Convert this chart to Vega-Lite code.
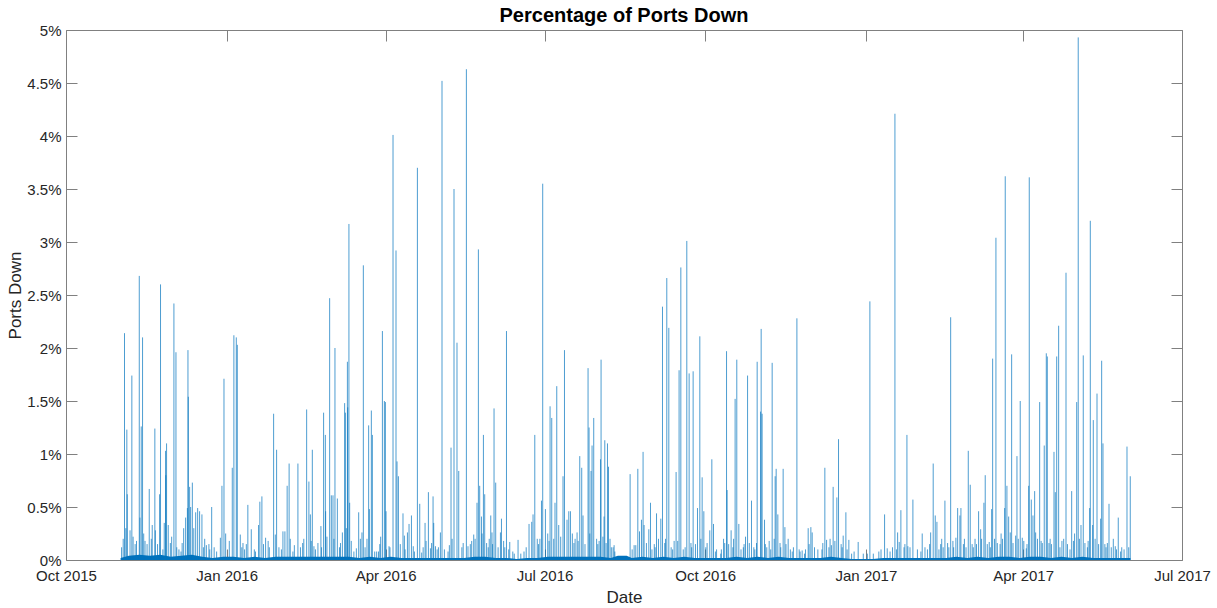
{
  "$schema": "https://vega.github.io/schema/vega-lite/v6.json",
  "width": 1116,
  "height": 530,
  "autosize": {"type": "none"},
  "padding": {"left": 66, "top": 30, "right": 35, "bottom": 48},
  "background": "white",
  "title": {
    "text": "Percentage of Ports Down",
    "font": "Liberation Sans",
    "fontSize": 20,
    "fontWeight": "bold",
    "color": "#000000",
    "anchor": "middle",
    "offset": -3
  },
  "config": {
    "view": {"stroke": "#808080", "strokeWidth": 1},
    "axis": {
      "labelFont": "Liberation Sans",
      "titleFont": "Liberation Sans",
      "labelFontSize": 15,
      "titleFontSize": 17,
      "titleFontWeight": "normal",
      "labelColor": "#262626",
      "titleColor": "#262626",
      "tickColor": "#808080",
      "tickWidth": 1,
      "tickSize": -11,
      "domain": false,
      "grid": false,
      "labelOverlap": false,
      "labelFlush": false,
      "labelBound": false
    }
  },
  "datasets": {
    "base": [
      {"t": "2015-11-01T06:00", "v": 0.0002}, {"t": "2015-11-06T00:00", "v": 0.0004}, {"t": "2015-11-12T00:00", "v": 0.0005},
      {"t": "2015-11-18T00:00", "v": 0.0004}, {"t": "2015-11-24T00:00", "v": 0.0005}, {"t": "2015-11-30T00:00", "v": 0.0003},
      {"t": "2015-12-06T00:00", "v": 0.0004}, {"t": "2015-12-12T00:00", "v": 0.0005}, {"t": "2015-12-18T00:00", "v": 0.0003},
      {"t": "2015-12-24T00:00", "v": 0.0002}, {"t": "2015-12-30T00:00", "v": 0.0003}, {"t": "2016-01-05T00:00", "v": 0.0003},
      {"t": "2016-01-11T00:00", "v": 0.0002}, {"t": "2016-01-17T00:00", "v": 0.0003}, {"t": "2016-01-23T00:00", "v": 0.0002},
      {"t": "2016-01-29T00:00", "v": 0.0003}, {"t": "2016-02-04T00:00", "v": 0.0003}, {"t": "2016-02-10T00:00", "v": 0.0003},
      {"t": "2016-02-16T00:00", "v": 0.0003}, {"t": "2016-02-22T00:00", "v": 0.0003}, {"t": "2016-02-28T00:00", "v": 0.0003},
      {"t": "2016-03-05T00:00", "v": 0.0003}, {"t": "2016-03-11T00:00", "v": 0.0003}, {"t": "2016-03-17T00:00", "v": 0.0002},
      {"t": "2016-03-23T00:00", "v": 0.0003}, {"t": "2016-03-29T00:00", "v": 0.0002}, {"t": "2016-04-04T00:00", "v": 0.0003},
      {"t": "2016-04-10T00:00", "v": 0.0002}, {"t": "2016-04-16T00:00", "v": 0.0002}, {"t": "2016-04-22T00:00", "v": 0.0002},
      {"t": "2016-04-28T00:00", "v": 0.0002}, {"t": "2016-05-04T00:00", "v": 0.0002}, {"t": "2016-05-10T00:00", "v": 0.0002},
      {"t": "2016-05-16T00:00", "v": 0.0002}, {"t": "2016-05-22T00:00", "v": 0.0003}, {"t": "2016-05-28T00:00", "v": 0.0003},
      {"t": "2016-06-03T00:00", "v": 0.0002}, {"t": "2016-06-09T00:00", "v": 0.0002}, {"t": "2016-06-15T00:00", "v": 0.0001},
      {"t": "2016-06-21T00:00", "v": 0.0002}, {"t": "2016-06-27T00:00", "v": 0.0002}, {"t": "2016-07-03T00:00", "v": 0.0003},
      {"t": "2016-07-09T00:00", "v": 0.0003}, {"t": "2016-07-15T00:00", "v": 0.0003}, {"t": "2016-07-21T00:00", "v": 0.0003},
      {"t": "2016-07-27T00:00", "v": 0.0003}, {"t": "2016-08-02T00:00", "v": 0.0003}, {"t": "2016-08-08T00:00", "v": 0.0002},
      {"t": "2016-08-12T00:00", "v": 0.0004}, {"t": "2016-08-17T00:00", "v": 0.0004}, {"t": "2016-08-20T00:00", "v": 0.0002},
      {"t": "2016-08-26T00:00", "v": 0.0003}, {"t": "2016-09-01T00:00", "v": 0.0002}, {"t": "2016-09-07T00:00", "v": 0.0003},
      {"t": "2016-09-13T00:00", "v": 0.0002}, {"t": "2016-09-19T00:00", "v": 0.0003}, {"t": "2016-09-25T00:00", "v": 0.0002},
      {"t": "2016-10-01T00:00", "v": 0.0002}, {"t": "2016-10-07T00:00", "v": 0.0002}, {"t": "2016-10-13T00:00", "v": 0.0002},
      {"t": "2016-10-19T00:00", "v": 0.0003}, {"t": "2016-10-25T00:00", "v": 0.0002}, {"t": "2016-10-31T00:00", "v": 0.0003},
      {"t": "2016-11-06T00:00", "v": 0.0002}, {"t": "2016-11-12T00:00", "v": 0.0003}, {"t": "2016-11-18T00:00", "v": 0.0002},
      {"t": "2016-11-24T00:00", "v": 0.0002}, {"t": "2016-11-30T00:00", "v": 0.0002}, {"t": "2016-12-06T00:00", "v": 0.0002},
      {"t": "2016-12-12T00:00", "v": 0.0003}, {"t": "2016-12-18T00:00", "v": 0.0002}, {"t": "2016-12-24T00:00", "v": 0.0001},
      {"t": "2016-12-30T00:00", "v": 0.0001}, {"t": "2017-01-05T00:00", "v": 0.0001}, {"t": "2017-01-11T00:00", "v": 0.0002},
      {"t": "2017-01-17T00:00", "v": 0.0002}, {"t": "2017-01-23T00:00", "v": 0.0002}, {"t": "2017-01-29T00:00", "v": 0.0002},
      {"t": "2017-02-04T00:00", "v": 0.0002}, {"t": "2017-02-10T00:00", "v": 0.0002}, {"t": "2017-02-16T00:00", "v": 0.0002},
      {"t": "2017-02-22T00:00", "v": 0.0003}, {"t": "2017-02-28T00:00", "v": 0.0002}, {"t": "2017-03-06T00:00", "v": 0.0003},
      {"t": "2017-03-12T00:00", "v": 0.0002}, {"t": "2017-03-18T00:00", "v": 0.0003}, {"t": "2017-03-24T00:00", "v": 0.0003},
      {"t": "2017-03-30T00:00", "v": 0.0002}, {"t": "2017-04-05T00:00", "v": 0.0003}, {"t": "2017-04-11T00:00", "v": 0.0003},
      {"t": "2017-04-17T00:00", "v": 0.0002}, {"t": "2017-04-23T00:00", "v": 0.0003}, {"t": "2017-04-29T00:00", "v": 0.0002},
      {"t": "2017-05-05T00:00", "v": 0.0003}, {"t": "2017-05-11T00:00", "v": 0.0002}, {"t": "2017-05-17T00:00", "v": 0.0002},
      {"t": "2017-05-23T00:00", "v": 0.0002}, {"t": "2017-05-29T00:00", "v": 0.0002}, {"t": "2017-06-01T12:00", "v": 0.0002}
    ],
    "spikes": [
      {"t": "2015-11-02T18:00", "v": 0.0020}, {"t": "2015-11-03T12:00", "v": 0.0214}, {"t": "2015-11-04T20:00", "v": 0.0123},
      {"t": "2015-11-05T02:00", "v": 0.0062}, {"t": "2015-11-06T16:00", "v": 0.0028}, {"t": "2015-11-07T17:00", "v": 0.0174},
      {"t": "2015-11-10T09:00", "v": 0.0018}, {"t": "2015-11-11T23:00", "v": 0.0268}, {"t": "2015-11-13T02:00", "v": 0.0126},
      {"t": "2015-11-13T20:00", "v": 0.0210}, {"t": "2015-11-16T10:00", "v": 0.0015}, {"t": "2015-11-17T16:00", "v": 0.0067},
      {"t": "2015-11-19T09:00", "v": 0.0033}, {"t": "2015-11-20T21:00", "v": 0.0124}, {"t": "2015-11-22T10:00", "v": 0.0015},
      {"t": "2015-11-23T14:00", "v": 0.0062}, {"t": "2015-11-24T03:00", "v": 0.0260}, {"t": "2015-11-25T11:00", "v": 0.0010},
      {"t": "2015-11-27T00:00", "v": 0.0103}, {"t": "2015-11-27T04:00", "v": 0.0080}, {"t": "2015-11-27T14:00", "v": 0.0110},
      {"t": "2015-11-28T13:00", "v": 0.0033}, {"t": "2015-12-01T19:00", "v": 0.0242}, {"t": "2015-12-02T23:00", "v": 0.0196},
      {"t": "2015-12-04T16:00", "v": 0.0010}, {"t": "2015-12-07T09:00", "v": 0.0030}, {"t": "2015-12-08T12:00", "v": 0.0040},
      {"t": "2015-12-09T12:00", "v": 0.0049}, {"t": "2015-12-09T20:00", "v": 0.0198}, {"t": "2015-12-10T01:00", "v": 0.0154},
      {"t": "2015-12-10T19:00", "v": 0.0069}, {"t": "2015-12-11T09:00", "v": 0.0050}, {"t": "2015-12-12T08:00", "v": 0.0073},
      {"t": "2015-12-14T06:00", "v": 0.0045}, {"t": "2015-12-15T09:00", "v": 0.0049}, {"t": "2015-12-16T12:00", "v": 0.0046},
      {"t": "2015-12-17T20:00", "v": 0.0043}, {"t": "2015-12-20T09:00", "v": 0.0014}, {"t": "2015-12-21T20:00", "v": 0.0015},
      {"t": "2015-12-23T10:00", "v": 0.0050}, {"t": "2015-12-28T09:00", "v": 0.0021}, {"t": "2015-12-29T07:00", "v": 0.0070},
      {"t": "2015-12-30T11:00", "v": 0.0171}, {"t": "2016-01-04T05:00", "v": 0.0087}, {"t": "2016-01-05T03:00", "v": 0.0212},
      {"t": "2016-01-06T12:00", "v": 0.0210}, {"t": "2016-01-07T02:00", "v": 0.0203}, {"t": "2016-01-08T19:00", "v": 0.0024},
      {"t": "2016-01-11T06:00", "v": 0.0010}, {"t": "2016-01-13T03:00", "v": 0.0052}, {"t": "2016-01-15T02:00", "v": 0.0029},
      {"t": "2016-01-19T06:00", "v": 0.0033}, {"t": "2016-01-20T00:00", "v": 0.0055}, {"t": "2016-01-21T04:00", "v": 0.0060},
      {"t": "2016-01-23T07:00", "v": 0.0021}, {"t": "2016-01-27T21:00", "v": 0.0138}, {"t": "2016-01-29T14:00", "v": 0.0104},
      {"t": "2016-02-02T05:00", "v": 0.0027}, {"t": "2016-02-03T08:00", "v": 0.0027}, {"t": "2016-02-04T15:00", "v": 0.0070},
      {"t": "2016-02-05T18:00", "v": 0.0091}, {"t": "2016-02-07T22:00", "v": 0.0008}, {"t": "2016-02-10T19:00", "v": 0.0091},
      {"t": "2016-02-15T19:00", "v": 0.0142}, {"t": "2016-02-17T02:00", "v": 0.0074}, {"t": "2016-02-17T22:00", "v": 0.0043},
      {"t": "2016-02-19T01:00", "v": 0.0104}, {"t": "2016-02-19T23:00", "v": 0.0013}, {"t": "2016-02-22T06:00", "v": 0.0016},
      {"t": "2016-02-23T23:00", "v": 0.0032}, {"t": "2016-02-25T12:00", "v": 0.0139}, {"t": "2016-02-26T12:00", "v": 0.0118},
      {"t": "2016-02-26T16:00", "v": 0.0046}, {"t": "2016-02-28T23:00", "v": 0.0247}, {"t": "2016-02-29T22:00", "v": 0.0061},
      {"t": "2016-03-01T21:00", "v": 0.0061}, {"t": "2016-03-03T00:00", "v": 0.0200}, {"t": "2016-03-04T09:00", "v": 0.0058},
      {"t": "2016-03-07T06:00", "v": 0.0026}, {"t": "2016-03-08T13:00", "v": 0.0148}, {"t": "2016-03-08T23:00", "v": 0.0139},
      {"t": "2016-03-10T03:00", "v": 0.0187}, {"t": "2016-03-10T07:00", "v": 0.0144}, {"t": "2016-03-11T00:00", "v": 0.0317},
      {"t": "2016-03-11T10:00", "v": 0.0054}, {"t": "2016-03-15T06:00", "v": 0.0011}, {"t": "2016-03-16T14:00", "v": 0.0045},
      {"t": "2016-03-17T13:00", "v": 0.0020}, {"t": "2016-03-18T11:00", "v": 0.0026}, {"t": "2016-03-19T06:00", "v": 0.0278},
      {"t": "2016-03-21T08:00", "v": 0.0020}, {"t": "2016-03-22T07:00", "v": 0.0127}, {"t": "2016-03-22T17:00", "v": 0.0048},
      {"t": "2016-03-23T20:00", "v": 0.0141}, {"t": "2016-03-24T10:00", "v": 0.0118}, {"t": "2016-03-25T18:00", "v": 0.0008},
      {"t": "2016-03-26T21:00", "v": 0.0008}, {"t": "2016-03-30T04:00", "v": 0.0216}, {"t": "2016-03-31T07:00", "v": 0.0150},
      {"t": "2016-03-31T21:00", "v": 0.0149}, {"t": "2016-04-01T06:00", "v": 0.0046}, {"t": "2016-04-02T23:00", "v": 0.0013},
      {"t": "2016-04-05T06:00", "v": 0.0401}, {"t": "2016-04-06T23:00", "v": 0.0292}, {"t": "2016-04-07T13:00", "v": 0.0093},
      {"t": "2016-04-08T08:00", "v": 0.0079}, {"t": "2016-04-10T23:00", "v": 0.0044}, {"t": "2016-04-11T18:00", "v": 0.0023},
      {"t": "2016-04-13T12:00", "v": 0.0026}, {"t": "2016-04-14T10:00", "v": 0.0034}, {"t": "2016-04-15T19:00", "v": 0.0042},
      {"t": "2016-04-19T05:00", "v": 0.0370}, {"t": "2016-04-20T13:00", "v": 0.0053}, {"t": "2016-04-21T16:00", "v": 0.0007},
      {"t": "2016-04-23T14:00", "v": 0.0035}, {"t": "2016-04-25T12:00", "v": 0.0064}, {"t": "2016-04-26T16:00", "v": 0.0011},
      {"t": "2016-04-28T04:00", "v": 0.0060}, {"t": "2016-04-28T13:00", "v": 0.0035}, {"t": "2016-04-29T13:00", "v": 0.0013},
      {"t": "2016-05-02T09:00", "v": 0.0026}, {"t": "2016-05-03T07:00", "v": 0.0452}, {"t": "2016-05-08T11:00", "v": 0.0106},
      {"t": "2016-05-10T04:00", "v": 0.0350}, {"t": "2016-05-11T21:00", "v": 0.0205}, {"t": "2016-05-12T21:00", "v": 0.0084},
      {"t": "2016-05-17T06:00", "v": 0.0463}, {"t": "2016-05-18T04:00", "v": 0.0013}, {"t": "2016-05-20T07:00", "v": 0.0018},
      {"t": "2016-05-21T11:00", "v": 0.0024}, {"t": "2016-05-23T08:00", "v": 0.0054}, {"t": "2016-05-24T03:00", "v": 0.0293},
      {"t": "2016-05-24T21:00", "v": 0.0070}, {"t": "2016-05-25T21:00", "v": 0.0041}, {"t": "2016-05-27T00:00", "v": 0.0118},
      {"t": "2016-05-27T18:00", "v": 0.0062}, {"t": "2016-05-31T05:00", "v": 0.0042}, {"t": "2016-05-31T22:00", "v": 0.0026},
      {"t": "2016-06-02T02:00", "v": 0.0143}, {"t": "2016-06-03T01:00", "v": 0.0073}, {"t": "2016-06-05T18:00", "v": 0.0026},
      {"t": "2016-06-06T08:00", "v": 0.0039}, {"t": "2016-06-09T05:00", "v": 0.0216}, {"t": "2016-06-11T02:00", "v": 0.0017},
      {"t": "2016-06-15T20:00", "v": 0.0019}, {"t": "2016-06-22T03:00", "v": 0.0034}, {"t": "2016-06-23T16:00", "v": 0.0036},
      {"t": "2016-06-24T10:00", "v": 0.0043}, {"t": "2016-06-25T10:00", "v": 0.0118}, {"t": "2016-06-29T06:00", "v": 0.0056},
      {"t": "2016-06-29T23:00", "v": 0.0355}, {"t": "2016-07-01T12:00", "v": 0.0048}, {"t": "2016-07-04T04:00", "v": 0.0145},
      {"t": "2016-07-05T03:00", "v": 0.0134}, {"t": "2016-07-07T00:00", "v": 0.0054}, {"t": "2016-07-08T00:00", "v": 0.0164},
      {"t": "2016-07-09T03:00", "v": 0.0033}, {"t": "2016-07-11T14:00", "v": 0.0079}, {"t": "2016-07-12T10:00", "v": 0.0198},
      {"t": "2016-07-13T21:00", "v": 0.0038}, {"t": "2016-07-14T21:00", "v": 0.0046}, {"t": "2016-07-15T20:00", "v": 0.0046},
      {"t": "2016-07-19T15:00", "v": 0.0026}, {"t": "2016-07-21T04:00", "v": 0.0098}, {"t": "2016-07-22T07:00", "v": 0.0087},
      {"t": "2016-07-23T01:00", "v": 0.0042}, {"t": "2016-07-25T22:00", "v": 0.0181}, {"t": "2016-07-26T12:00", "v": 0.0125},
      {"t": "2016-07-27T15:00", "v": 0.0084}, {"t": "2016-07-28T05:00", "v": 0.0108}, {"t": "2016-07-29T04:00", "v": 0.0134},
      {"t": "2016-08-02T01:00", "v": 0.0095}, {"t": "2016-08-02T09:00", "v": 0.0189}, {"t": "2016-08-04T02:00", "v": 0.0041},
      {"t": "2016-08-04T12:00", "v": 0.0113}, {"t": "2016-08-06T01:00", "v": 0.0110}, {"t": "2016-08-06T15:00", "v": 0.0088},
      {"t": "2016-08-09T06:00", "v": 0.0012}, {"t": "2016-08-09T20:00", "v": 0.0014}, {"t": "2016-08-19T00:00", "v": 0.0081},
      {"t": "2016-08-21T07:00", "v": 0.0014}, {"t": "2016-08-23T10:00", "v": 0.0086}, {"t": "2016-08-24T09:00", "v": 0.0027},
      {"t": "2016-08-25T12:00", "v": 0.0038}, {"t": "2016-08-26T10:00", "v": 0.0102}, {"t": "2016-08-27T00:00", "v": 0.0033},
      {"t": "2016-08-29T17:00", "v": 0.0029}, {"t": "2016-08-30T16:00", "v": 0.0054}, {"t": "2016-09-03T03:00", "v": 0.0044},
      {"t": "2016-09-05T14:00", "v": 0.0039}, {"t": "2016-09-06T13:00", "v": 0.0239}, {"t": "2016-09-09T00:00", "v": 0.0266},
      {"t": "2016-09-10T04:00", "v": 0.0219}, {"t": "2016-09-13T05:00", "v": 0.0018}, {"t": "2016-09-14T08:00", "v": 0.0083},
      {"t": "2016-09-16T01:00", "v": 0.0179}, {"t": "2016-09-17T01:00", "v": 0.0276}, {"t": "2016-09-19T12:00", "v": 0.0012},
      {"t": "2016-09-20T11:00", "v": 0.0301}, {"t": "2016-09-21T19:00", "v": 0.0176}, {"t": "2016-09-24T02:00", "v": 0.0178},
      {"t": "2016-09-26T14:00", "v": 0.0049}, {"t": "2016-09-27T22:00", "v": 0.0211}, {"t": "2016-09-29T06:00", "v": 0.0078},
      {"t": "2016-09-30T05:00", "v": 0.0046}, {"t": "2016-10-02T02:00", "v": 0.0016}, {"t": "2016-10-03T15:00", "v": 0.0028},
      {"t": "2016-10-04T19:00", "v": 0.0095}, {"t": "2016-10-05T18:00", "v": 0.0034}, {"t": "2016-10-11T12:00", "v": 0.0020},
      {"t": "2016-10-13T05:00", "v": 0.0197}, {"t": "2016-10-13T13:00", "v": 0.0066}, {"t": "2016-10-15T20:00", "v": 0.0028},
      {"t": "2016-10-18T03:00", "v": 0.0152}, {"t": "2016-10-19T02:00", "v": 0.0189}, {"t": "2016-10-20T06:00", "v": 0.0034},
      {"t": "2016-10-24T02:00", "v": 0.0022}, {"t": "2016-10-25T06:00", "v": 0.0174}, {"t": "2016-10-27T12:00", "v": 0.0056},
      {"t": "2016-10-30T09:00", "v": 0.0016}, {"t": "2016-10-30T18:00", "v": 0.0187}, {"t": "2016-11-01T17:00", "v": 0.0140},
      {"t": "2016-11-02T01:00", "v": 0.0218}, {"t": "2016-11-02T14:00", "v": 0.0138}, {"t": "2016-11-03T23:00", "v": 0.0038},
      {"t": "2016-11-06T15:00", "v": 0.0018}, {"t": "2016-11-08T08:00", "v": 0.0186}, {"t": "2016-11-09T12:00", "v": 0.0020},
      {"t": "2016-11-10T01:00", "v": 0.0079}, {"t": "2016-11-10T15:00", "v": 0.0086}, {"t": "2016-11-11T14:00", "v": 0.0043},
      {"t": "2016-11-14T15:00", "v": 0.0086}, {"t": "2016-11-15T15:00", "v": 0.0031}, {"t": "2016-11-17T12:00", "v": 0.0020},
      {"t": "2016-11-22T12:00", "v": 0.0228}, {"t": "2016-11-23T19:00", "v": 0.0010}, {"t": "2016-11-25T12:00", "v": 0.0009},
      {"t": "2016-11-28T23:00", "v": 0.0030}, {"t": "2016-11-30T12:00", "v": 0.0031}, {"t": "2016-12-01T06:00", "v": 0.0026},
      {"t": "2016-12-08T12:00", "v": 0.0087}, {"t": "2016-12-09T12:00", "v": 0.0019}, {"t": "2016-12-13T06:00", "v": 0.0069},
      {"t": "2016-12-15T09:00", "v": 0.0059}, {"t": "2016-12-16T08:00", "v": 0.0114}, {"t": "2016-12-19T00:00", "v": 0.0023},
      {"t": "2016-12-20T13:00", "v": 0.0045}, {"t": "2016-12-22T06:00", "v": 0.0019}, {"t": "2016-12-27T14:00", "v": 0.0017},
      {"t": "2017-01-03T07:00", "v": 0.0244}, {"t": "2017-01-11T17:00", "v": 0.0043}, {"t": "2017-01-13T05:00", "v": 0.0011},
      {"t": "2017-01-17T15:00", "v": 0.0421}, {"t": "2017-01-19T04:00", "v": 0.0026}, {"t": "2017-01-20T02:00", "v": 0.0017},
      {"t": "2017-01-21T01:00", "v": 0.0047}, {"t": "2017-01-24T12:00", "v": 0.0118}, {"t": "2017-01-25T01:00", "v": 0.0013},
      {"t": "2017-01-27T22:00", "v": 0.0057}, {"t": "2017-02-02T06:00", "v": 0.0025}, {"t": "2017-02-07T02:00", "v": 0.0026},
      {"t": "2017-02-08T13:00", "v": 0.0091}, {"t": "2017-02-09T17:00", "v": 0.0042}, {"t": "2017-02-10T16:00", "v": 0.0036},
      {"t": "2017-02-11T20:00", "v": 0.0010}, {"t": "2017-02-15T06:00", "v": 0.0056}, {"t": "2017-02-16T19:00", "v": 0.0016},
      {"t": "2017-02-18T13:00", "v": 0.0229}, {"t": "2017-02-21T13:00", "v": 0.0021}, {"t": "2017-02-22T13:00", "v": 0.0049},
      {"t": "2017-02-23T20:00", "v": 0.0042}, {"t": "2017-02-24T10:00", "v": 0.0049}, {"t": "2017-02-28T15:00", "v": 0.0103},
      {"t": "2017-03-01T18:00", "v": 0.0071}, {"t": "2017-03-06T13:00", "v": 0.0046}, {"t": "2017-03-07T17:00", "v": 0.0029},
      {"t": "2017-03-09T14:00", "v": 0.0054}, {"t": "2017-03-10T08:00", "v": 0.0080}, {"t": "2017-03-12T15:00", "v": 0.0017},
      {"t": "2017-03-14T00:00", "v": 0.0048}, {"t": "2017-03-14T14:00", "v": 0.0190}, {"t": "2017-03-16T11:00", "v": 0.0304},
      {"t": "2017-03-21T11:00", "v": 0.0049}, {"t": "2017-03-21T19:00", "v": 0.0362}, {"t": "2017-03-22T18:00", "v": 0.0070},
      {"t": "2017-03-23T18:00", "v": 0.0041}, {"t": "2017-03-24T16:00", "v": 0.0026}, {"t": "2017-03-25T11:00", "v": 0.0194},
      {"t": "2017-03-27T18:00", "v": 0.0023}, {"t": "2017-03-28T12:00", "v": 0.0098}, {"t": "2017-03-30T09:00", "v": 0.0150},
      {"t": "2017-03-31T13:00", "v": 0.0021}, {"t": "2017-04-02T20:00", "v": 0.0011}, {"t": "2017-04-04T05:00", "v": 0.0070},
      {"t": "2017-04-04T13:00", "v": 0.0361}, {"t": "2017-04-05T17:00", "v": 0.0057}, {"t": "2017-04-06T16:00", "v": 0.0042},
      {"t": "2017-04-07T15:00", "v": 0.0065}, {"t": "2017-04-08T05:00", "v": 0.0026}, {"t": "2017-04-10T12:00", "v": 0.0149},
      {"t": "2017-04-12T00:00", "v": 0.0016}, {"t": "2017-04-13T03:00", "v": 0.0108}, {"t": "2017-04-14T07:00", "v": 0.0195},
      {"t": "2017-04-14T21:00", "v": 0.0192}, {"t": "2017-04-18T17:00", "v": 0.0102}, {"t": "2017-04-19T11:00", "v": 0.0064},
      {"t": "2017-04-20T06:00", "v": 0.0192}, {"t": "2017-04-21T09:00", "v": 0.0221}, {"t": "2017-04-22T03:00", "v": 0.0012},
      {"t": "2017-04-25T14:00", "v": 0.0271}, {"t": "2017-04-27T21:00", "v": 0.0010}, {"t": "2017-04-28T20:00", "v": 0.0065},
      {"t": "2017-05-01T17:00", "v": 0.0149}, {"t": "2017-05-02T14:00", "v": 0.0493}, {"t": "2017-05-04T04:00", "v": 0.0033},
      {"t": "2017-05-05T11:00", "v": 0.0193}, {"t": "2017-05-09T03:00", "v": 0.0049}, {"t": "2017-05-09T12:00", "v": 0.0320},
      {"t": "2017-05-10T20:00", "v": 0.0033}, {"t": "2017-05-11T05:00", "v": 0.0132}, {"t": "2017-05-13T08:00", "v": 0.0157},
      {"t": "2017-05-15T10:00", "v": 0.0039}, {"t": "2017-05-16T00:00", "v": 0.0188}, {"t": "2017-05-16T18:00", "v": 0.0110},
      {"t": "2017-05-20T05:00", "v": 0.0053}, {"t": "2017-05-22T16:00", "v": 0.0020}, {"t": "2017-05-23T19:00", "v": 0.0013},
      {"t": "2017-05-25T12:00", "v": 0.0040}, {"t": "2017-05-30T12:00", "v": 0.0107}, {"t": "2017-06-01T09:00", "v": 0.0079},
      {"t": "2015-11-01T20:00", "v": 0.0012}, {"t": "2015-11-04T06:00", "v": 0.0030}, {"t": "2015-11-08T10:00", "v": 0.0022},
      {"t": "2015-11-09T14:00", "v": 0.0015}, {"t": "2015-11-12T08:00", "v": 0.0040}, {"t": "2015-11-14T12:00", "v": 0.0025},
      {"t": "2015-11-15T06:00", "v": 0.0018}, {"t": "2015-11-18T20:00", "v": 0.0020}, {"t": "2015-11-21T04:00", "v": 0.0028},
      {"t": "2015-11-26T06:00", "v": 0.0035}, {"t": "2015-11-29T18:00", "v": 0.0016}, {"t": "2015-11-30T12:00", "v": 0.0022},
      {"t": "2015-12-03T10:00", "v": 0.0012}, {"t": "2015-12-05T20:00", "v": 0.0008}, {"t": "2015-12-06T12:00", "v": 0.0016},
      {"t": "2015-12-13T04:00", "v": 0.0030}, {"t": "2015-12-18T16:00", "v": 0.0012}, {"t": "2015-12-19T10:00", "v": 0.0020},
      {"t": "2015-12-22T08:00", "v": 0.0010}, {"t": "2015-12-24T20:00", "v": 0.0012}, {"t": "2015-12-26T06:00", "v": 0.0008},
      {"t": "2015-12-31T10:00", "v": 0.0025}, {"t": "2016-01-02T12:00", "v": 0.0018}, {"t": "2016-01-09T16:00", "v": 0.0012},
      {"t": "2016-01-10T08:00", "v": 0.0016}, {"t": "2016-01-12T06:00", "v": 0.0015}, {"t": "2016-01-16T20:00", "v": 0.0010},
      {"t": "2016-01-17T12:00", "v": 0.0008}, {"t": "2016-01-22T02:00", "v": 0.0015}, {"t": "2016-01-24T18:00", "v": 0.0018},
      {"t": "2016-01-25T10:00", "v": 0.0012}, {"t": "2016-01-28T20:00", "v": 0.0024}, {"t": "2016-01-30T22:00", "v": 0.0012},
      {"t": "2016-02-01T08:00", "v": 0.0010}, {"t": "2016-02-06T10:00", "v": 0.0020}, {"t": "2016-02-08T18:00", "v": 0.0014},
      {"t": "2016-02-12T06:00", "v": 0.0012}, {"t": "2016-02-13T12:00", "v": 0.0016}, {"t": "2016-02-14T04:00", "v": 0.0020},
      {"t": "2016-02-18T10:00", "v": 0.0018}, {"t": "2016-02-20T20:00", "v": 0.0010}, {"t": "2016-02-24T08:00", "v": 0.0012},
      {"t": "2016-02-27T10:00", "v": 0.0022}, {"t": "2016-03-02T10:00", "v": 0.0020}, {"t": "2016-03-05T14:00", "v": 0.0012},
      {"t": "2016-03-06T04:00", "v": 0.0016}, {"t": "2016-03-09T12:00", "v": 0.0030}, {"t": "2016-03-12T08:00", "v": 0.0018},
      {"t": "2016-03-13T20:00", "v": 0.0008}, {"t": "2016-03-20T06:00", "v": 0.0012}, {"t": "2016-03-27T22:00", "v": 0.0008},
      {"t": "2016-03-28T16:00", "v": 0.0015}, {"t": "2016-03-29T04:00", "v": 0.0022}, {"t": "2016-04-03T12:00", "v": 0.0012},
      {"t": "2016-04-09T10:00", "v": 0.0015}, {"t": "2016-04-12T04:00", "v": 0.0010}, {"t": "2016-04-16T20:00", "v": 0.0013},
      {"t": "2016-04-17T12:00", "v": 0.0008}, {"t": "2016-04-22T12:00", "v": 0.0012}, {"t": "2016-04-24T04:00", "v": 0.0018},
      {"t": "2016-04-27T08:00", "v": 0.0016}, {"t": "2016-04-30T12:00", "v": 0.0010}, {"t": "2016-05-01T06:00", "v": 0.0012},
      {"t": "2016-05-04T16:00", "v": 0.0010}, {"t": "2016-05-06T18:00", "v": 0.0008}, {"t": "2016-05-07T12:00", "v": 0.0014},
      {"t": "2016-05-09T02:00", "v": 0.0020}, {"t": "2016-05-14T16:00", "v": 0.0012}, {"t": "2016-05-15T10:00", "v": 0.0016},
      {"t": "2016-05-19T12:00", "v": 0.0015}, {"t": "2016-05-22T06:00", "v": 0.0020}, {"t": "2016-05-26T06:00", "v": 0.0025},
      {"t": "2016-05-28T20:00", "v": 0.0016}, {"t": "2016-05-29T18:00", "v": 0.0012}, {"t": "2016-05-30T08:00", "v": 0.0020},
      {"t": "2016-06-01T06:00", "v": 0.0015}, {"t": "2016-06-04T10:00", "v": 0.0012}, {"t": "2016-06-07T14:00", "v": 0.0018},
      {"t": "2016-06-08T06:00", "v": 0.0012}, {"t": "2016-06-10T12:00", "v": 0.0010}, {"t": "2016-06-12T20:00", "v": 0.0008},
      {"t": "2016-06-13T16:00", "v": 0.0006}, {"t": "2016-06-17T10:00", "v": 0.0006}, {"t": "2016-06-19T06:00", "v": 0.0008},
      {"t": "2016-06-20T12:00", "v": 0.0012}, {"t": "2016-06-26T20:00", "v": 0.0020}, {"t": "2016-06-27T14:00", "v": 0.0015},
      {"t": "2016-06-28T08:00", "v": 0.0020}, {"t": "2016-07-02T20:00", "v": 0.0025}, {"t": "2016-07-03T14:00", "v": 0.0018},
      {"t": "2016-07-06T06:00", "v": 0.0020}, {"t": "2016-07-10T06:00", "v": 0.0022}, {"t": "2016-07-16T22:00", "v": 0.0025},
      {"t": "2016-07-17T20:00", "v": 0.0016}, {"t": "2016-07-18T12:00", "v": 0.0020}, {"t": "2016-07-20T06:00", "v": 0.0018},
      {"t": "2016-07-24T04:00", "v": 0.0015}, {"t": "2016-07-26T22:00", "v": 0.0025}, {"t": "2016-07-30T20:00", "v": 0.0020},
      {"t": "2016-07-31T12:00", "v": 0.0015}, {"t": "2016-08-01T06:00", "v": 0.0018}, {"t": "2016-08-03T10:00", "v": 0.0022},
      {"t": "2016-08-05T06:00", "v": 0.0016}, {"t": "2016-08-07T12:00", "v": 0.0020}, {"t": "2016-08-08T06:00", "v": 0.0012},
      {"t": "2016-08-10T06:00", "v": 0.0008}, {"t": "2016-08-20T04:00", "v": 0.0010}, {"t": "2016-08-22T06:00", "v": 0.0014},
      {"t": "2016-08-28T08:00", "v": 0.0016}, {"t": "2016-08-31T12:00", "v": 0.0010}, {"t": "2016-09-01T20:00", "v": 0.0015},
      {"t": "2016-09-02T08:00", "v": 0.0012}, {"t": "2016-09-04T06:00", "v": 0.0020}, {"t": "2016-09-07T20:00", "v": 0.0016},
      {"t": "2016-09-08T06:00", "v": 0.0020}, {"t": "2016-09-11T12:00", "v": 0.0012}, {"t": "2016-09-12T08:00", "v": 0.0010},
      {"t": "2016-09-15T06:00", "v": 0.0018}, {"t": "2016-09-18T10:00", "v": 0.0010}, {"t": "2016-09-22T20:00", "v": 0.0016},
      {"t": "2016-09-23T06:00", "v": 0.0012}, {"t": "2016-09-25T10:00", "v": 0.0015}, {"t": "2016-09-28T12:00", "v": 0.0020},
      {"t": "2016-10-01T08:00", "v": 0.0012}, {"t": "2016-10-06T20:00", "v": 0.0008}, {"t": "2016-10-07T12:00", "v": 0.0010},
      {"t": "2016-10-09T22:00", "v": 0.0006}, {"t": "2016-10-10T06:00", "v": 0.0010}, {"t": "2016-10-12T04:00", "v": 0.0016},
      {"t": "2016-10-14T10:00", "v": 0.0015}, {"t": "2016-10-16T20:00", "v": 0.0012}, {"t": "2016-10-17T06:00", "v": 0.0020},
      {"t": "2016-10-21T12:00", "v": 0.0010}, {"t": "2016-10-22T20:00", "v": 0.0012}, {"t": "2016-10-23T06:00", "v": 0.0015},
      {"t": "2016-10-26T06:00", "v": 0.0016}, {"t": "2016-10-28T20:00", "v": 0.0012}, {"t": "2016-10-29T10:00", "v": 0.0010},
      {"t": "2016-11-04T10:00", "v": 0.0015}, {"t": "2016-11-05T06:00", "v": 0.0012}, {"t": "2016-11-07T12:00", "v": 0.0010},
      {"t": "2016-11-12T20:00", "v": 0.0016}, {"t": "2016-11-13T06:00", "v": 0.0012}, {"t": "2016-11-16T06:00", "v": 0.0015},
      {"t": "2016-11-18T18:00", "v": 0.0010}, {"t": "2016-11-19T20:00", "v": 0.0008}, {"t": "2016-11-20T12:00", "v": 0.0012},
      {"t": "2016-11-24T08:00", "v": 0.0008}, {"t": "2016-11-26T20:00", "v": 0.0006}, {"t": "2016-11-27T10:00", "v": 0.0010},
      {"t": "2016-11-29T12:00", "v": 0.0015}, {"t": "2016-12-02T14:00", "v": 0.0012}, {"t": "2016-12-04T12:00", "v": 0.0010},
      {"t": "2016-12-06T20:00", "v": 0.0010}, {"t": "2016-12-07T08:00", "v": 0.0016}, {"t": "2016-12-10T20:00", "v": 0.0012},
      {"t": "2016-12-11T12:00", "v": 0.0020}, {"t": "2016-12-12T06:00", "v": 0.0014}, {"t": "2016-12-14T06:00", "v": 0.0018},
      {"t": "2016-12-17T20:00", "v": 0.0015}, {"t": "2016-12-18T10:00", "v": 0.0012}, {"t": "2016-12-21T06:00", "v": 0.0010},
      {"t": "2016-12-23T20:00", "v": 0.0006}, {"t": "2016-12-25T06:00", "v": 0.0008}, {"t": "2016-12-30T12:00", "v": 0.0006},
      {"t": "2017-01-01T20:00", "v": 0.0006}, {"t": "2017-01-05T06:00", "v": 0.0006}, {"t": "2017-01-08T10:00", "v": 0.0008},
      {"t": "2017-01-09T16:00", "v": 0.0010}, {"t": "2017-01-14T20:00", "v": 0.0008}, {"t": "2017-01-16T06:00", "v": 0.0012},
      {"t": "2017-01-18T12:00", "v": 0.0010}, {"t": "2017-01-22T20:00", "v": 0.0012}, {"t": "2017-01-23T08:00", "v": 0.0015},
      {"t": "2017-01-26T06:00", "v": 0.0012}, {"t": "2017-01-30T12:00", "v": 0.0010}, {"t": "2017-02-01T12:00", "v": 0.0008},
      {"t": "2017-02-03T20:00", "v": 0.0012}, {"t": "2017-02-05T06:00", "v": 0.0010}, {"t": "2017-02-06T12:00", "v": 0.0015},
      {"t": "2017-02-12T20:00", "v": 0.0015}, {"t": "2017-02-13T10:00", "v": 0.0020}, {"t": "2017-02-14T06:00", "v": 0.0012},
      {"t": "2017-02-17T12:00", "v": 0.0012}, {"t": "2017-02-19T20:00", "v": 0.0018}, {"t": "2017-02-20T06:00", "v": 0.0012},
      {"t": "2017-02-25T20:00", "v": 0.0015}, {"t": "2017-02-26T10:00", "v": 0.0020}, {"t": "2017-02-27T08:00", "v": 0.0012},
      {"t": "2017-03-02T20:00", "v": 0.0015}, {"t": "2017-03-03T12:00", "v": 0.0012}, {"t": "2017-03-04T12:00", "v": 0.0020},
      {"t": "2017-03-05T08:00", "v": 0.0015}, {"t": "2017-03-08T06:00", "v": 0.0020}, {"t": "2017-03-11T12:00", "v": 0.0015},
      {"t": "2017-03-13T06:00", "v": 0.0012}, {"t": "2017-03-15T16:00", "v": 0.0020}, {"t": "2017-03-17T06:00", "v": 0.0016},
      {"t": "2017-03-18T20:00", "v": 0.0015}, {"t": "2017-03-19T10:00", "v": 0.0025}, {"t": "2017-03-20T06:00", "v": 0.0020},
      {"t": "2017-03-26T06:00", "v": 0.0016}, {"t": "2017-03-29T06:00", "v": 0.0020}, {"t": "2017-04-01T10:00", "v": 0.0018},
      {"t": "2017-04-03T06:00", "v": 0.0015}, {"t": "2017-04-09T06:00", "v": 0.0020}, {"t": "2017-04-11T08:00", "v": 0.0018},
      {"t": "2017-04-15T20:00", "v": 0.0016}, {"t": "2017-04-16T12:00", "v": 0.0020}, {"t": "2017-04-17T06:00", "v": 0.0015},
      {"t": "2017-04-23T06:00", "v": 0.0018}, {"t": "2017-04-24T06:00", "v": 0.0020}, {"t": "2017-04-26T10:00", "v": 0.0015},
      {"t": "2017-04-29T20:00", "v": 0.0018}, {"t": "2017-04-30T12:00", "v": 0.0025}, {"t": "2017-05-03T06:00", "v": 0.0020},
      {"t": "2017-05-06T10:00", "v": 0.0016}, {"t": "2017-05-07T20:00", "v": 0.0012}, {"t": "2017-05-08T06:00", "v": 0.0018},
      {"t": "2017-05-12T06:00", "v": 0.0020}, {"t": "2017-05-14T06:00", "v": 0.0015}, {"t": "2017-05-17T20:00", "v": 0.0015},
      {"t": "2017-05-18T12:00", "v": 0.0012}, {"t": "2017-05-19T06:00", "v": 0.0016}, {"t": "2017-05-21T12:00", "v": 0.0012},
      {"t": "2017-05-24T12:00", "v": 0.0010}, {"t": "2017-05-26T20:00", "v": 0.0008}, {"t": "2017-05-27T12:00", "v": 0.0012},
      {"t": "2017-05-28T20:00", "v": 0.0010}, {"t": "2017-05-31T12:00", "v": 0.0012}
    ]
  },
  "layer": [
    {
      "data": {"name": "base"},
      "mark": {"type": "area", "color": "#0072BD", "opacity": 1},
      "encoding": {
        "x": {
          "field": "t",
          "type": "temporal",
          "title": "Date",
          "scale": {"domain": [{"year": 2015, "month": 10, "date": 1}, {"year": 2017, "month": 7, "date": 1}]},
          "axis": {
            "orient": "bottom",
            "format": "%b %Y",
            "values": [
              {"year": 2015, "month": 10, "date": 1}, {"year": 2016, "month": 1, "date": 1},
              {"year": 2016, "month": 4, "date": 1}, {"year": 2016, "month": 7, "date": 1},
              {"year": 2016, "month": 10, "date": 1}, {"year": 2017, "month": 1, "date": 1},
              {"year": 2017, "month": 4, "date": 1}, {"year": 2017, "month": 7, "date": 1}
            ],
            "labelPadding": 19,
            "titlePadding": 6
          }
        },
        "y": {
          "field": "v",
          "type": "quantitative",
          "title": "Ports Down",
          "scale": {"domain": [0, 0.05], "nice": false},
          "axis": {
            "orient": "left",
            "format": ".1~%",
            "values": [0, 0.005, 0.01, 0.015, 0.02, 0.025, 0.03, 0.035, 0.04, 0.045, 0.05],
            "labelPadding": 16,
            "titlePadding": 2
          }
        }
      }
    },
    {
      "data": {"name": "spikes"},
      "mark": {"type": "rule", "color": "#0072BD", "strokeWidth": 0.7},
      "encoding": {
        "x": {
          "field": "t",
          "type": "temporal",
          "axis": {
            "orient": "top",
            "labels": false,
            "title": null,
            "values": [
              {"year": 2015, "month": 10, "date": 1}, {"year": 2016, "month": 1, "date": 1},
              {"year": 2016, "month": 4, "date": 1}, {"year": 2016, "month": 7, "date": 1},
              {"year": 2016, "month": 10, "date": 1}, {"year": 2017, "month": 1, "date": 1},
              {"year": 2017, "month": 4, "date": 1}, {"year": 2017, "month": 7, "date": 1}
            ]
          }
        },
        "y": {
          "field": "v",
          "type": "quantitative",
          "axis": {
            "orient": "right",
            "labels": false,
            "title": null,
            "values": [0, 0.005, 0.01, 0.015, 0.02, 0.025, 0.03, 0.035, 0.04, 0.045, 0.05]
          }
        },
        "y2": {"datum": 0}
      }
    }
  ]
}
